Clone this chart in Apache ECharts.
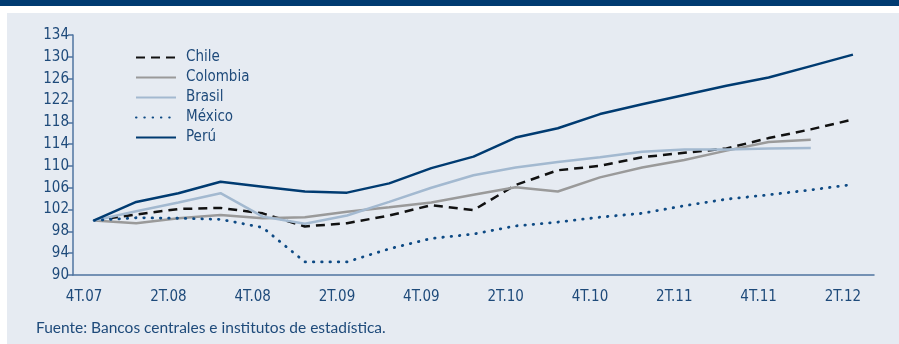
<!DOCTYPE html>
<html>
<head>
<meta charset="utf-8">
<script src="https://cdn.jsdelivr.net/npm/echarts@6/dist/echarts.min.js"></script>
<style>
  html, body { margin: 0; padding: 0; background: #fff; }
  #chart { width: 899px; height: 344px; }
</style>
</head>
<body>
<div id="chart"></div>
<script>
// trimestres, 4T.07 = 100
const quarters = ['4T.07', '1T.08', '2T.08', '3T.08', '4T.08', '1T.09', '2T.09', '3T.09', '4T.09', '1T.10',
    '2T.10', '3T.10', '4T.10', '1T.11', '2T.11', '3T.11', '4T.11', '1T.12', '2T.12'];

const chile = [100, 101.1, 102.1, 102.3, 101.3, 98.9, 99.5, 100.9, 102.8, 101.9,
    106.5, 109.2, 110.0, 111.6, 112.4, 113.2, 115.1, 116.7, 118.5];
const colombia = [100, 99.5, 100.4, 101.0, 100.4, 100.6, 101.6, 102.4, 103.3, 104.7,
    106.1, 105.3, 107.9, 109.7, 111.1, 112.8, 114.4, 114.8];
const brasil = [100, 101.7, 103.3, 105.0, 100.7, 99.4, 100.9, 103.4, 106.0, 108.3,
    109.7, 110.7, 111.6, 112.6, 113.0, 113.0, 113.2, 113.3];
const mexico = [100, 100.5, 100.4, 100.2, 98.7, 92.4, 92.4, 94.8, 96.7, 97.5,
    99.0, 99.7, 100.6, 101.3, 102.7, 103.9, 104.7, 105.6, 106.6];
const peru = [100, 103.4, 105.0, 107.1, 106.2, 105.3, 105.1, 106.8, 109.6, 111.7,
    115.2, 116.9, 119.5, 121.3, 123.0, 124.7, 126.2, 128.3, 130.4];

const yTicks = { min: 90, max: 134, step: 4 };

const navy = '#003b71';
const textColor = '#1e4a7a';
const axisColor = '#4f74a0';
const narrow = '"Liberation Sans Narrow", "Arial Narrow", "DejaVu Sans Condensed", sans-serif';

const mkLine = (name, data, color, type, width, cap) => ({
    name,
    type: 'line',
    data,
    symbol: 'none',
    lineStyle: { color, type, width, cap: cap || 'butt' },
    itemStyle: { color },
    z: 3
});

const chart = echarts.init(document.getElementById('chart'));
chart.setOption({
    animation: false,
    backgroundColor: '#fff',
    graphic: [
        { type: 'rect', shape: { x: 0, y: 0, width: 899, height: 6 }, style: { fill: navy }, z: -10 },
        { type: 'rect', shape: { x: 7, y: 13, width: 892, height: 331 }, style: { fill: '#e6ebf2' }, z: -10 },
        {
            type: 'text', left: 36, top: 320,
            style: {
                text: 'Fuente: Bancos centrales e institutos de estadística.',
                fill: textColor, font: '15.5px Lato, "Open Sans", sans-serif'
            }
        }
    ],
    grid: { left: 73, right: 25, top: 35, bottom: 69 },
    legend: {
        orient: 'vertical',
        left: 130,
        top: 45,
        itemWidth: 40,
        itemHeight: 14,
        itemGap: 5,
        itemStyle: { opacity: 0, borderWidth: 0 },
        textStyle: { color: textColor, fontSize: 15, fontFamily: narrow, padding: [0, 0, 0, 5] },
        data: ['Chile', 'Colombia', 'Brasil', 'México', 'Perú']
    },
    xAxis: {
        type: 'category',
        data: quarters,
        boundaryGap: true,
        axisLine: { lineStyle: { color: axisColor, width: 1.5 } },
        axisTick: { interval: 1, length: 4, lineStyle: { color: axisColor, width: 1.5 } },
        axisLabel: {
            interval: 1,
            color: textColor,
            fontSize: 15,
            fontFamily: narrow,
            margin: 15,
            padding: [0, 20, 0, 0]
        },
        splitLine: { show: false }
    },
    yAxis: {
        type: 'value',
        min: yTicks.min,
        max: yTicks.max,
        interval: yTicks.step,
        axisLine: { show: true, lineStyle: { color: axisColor, width: 1.5 } },
        axisTick: { show: true, length: 5, lineStyle: { color: axisColor, width: 1.5 } },
        axisLabel: { color: textColor, fontSize: 15, fontFamily: narrow, margin: 4 },
        splitLine: { show: false }
    },
    series: [
        mkLine('Chile', chile, '#111111', [9, 6], 2.5),
        mkLine('Colombia', colombia, '#9a9a9a', 'solid', 2.5),
        mkLine('Brasil', brasil, '#a3b9d0', 'solid', 2.5),
        mkLine('México', mexico, '#0e4a84', [0.5, 7.8], 2.8, 'round'),
        mkLine('Perú', peru, navy, 'solid', 2.5)
    ]
});
</script>
</body>
</html>
